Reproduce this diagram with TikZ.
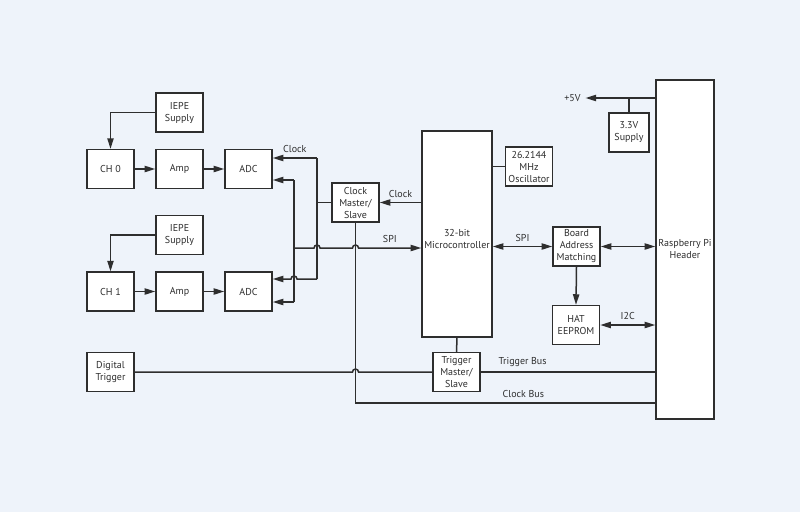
\documentclass[tikz,border=0pt]{standalone}
\usepackage{fontspec}
\setmainfont{PT Sans}
\usetikzlibrary{positioning, arrows.meta}
\definecolor{bgblue}{HTML}{EEF3FA}
\definecolor{inkgray}{HTML}{2E2E2E}

\begin{document}
\begin{tikzpicture}[x=0.8pt, y=-0.8pt, color=inkgray, line width=1.2pt,
    font=\fontsize{8}{9.6}\selectfont,
    >={Triangle[length=8.5pt, width=5pt]},
    box/.style={draw, fill=white, align=center, inner sep=1pt,
        minimum width=37.6pt, minimum height=31pt}]
    % Background
    \fill[bgblue] (0,0) rectangle (800,512);
    \useasboundingbox (0,0) rectangle (800,512);

    % Input channels
    \node[box] (iepeA) at (179.5,112.5) {IEPE\\Supply};
    \node[box] (chA) at (110.5,169) {CH 0};
    \node[box] (ampA) at (179.5,169) {Amp};
    \node[box] (adcA) at (248.5,169) {ADC};
    \node[box] (iepeB) at (179.5,235) {IEPE\\Supply};
    \node[box] (chB) at (110.5,291.5) {CH 1};
    \node[box] (ampB) at (179.5,291.5) {Amp};
    \node[box] (adcB) at (248.5,291.5) {ADC};
    \node[box] (dtrig) at (110.5,372) {Digital\\Trigger};

    % Controller side
    \node[box] (clkms) at (355.5,202.5) {Clock\\Master/\\Slave};
    \node[box, minimum width=56pt, minimum height=164.8pt,
        label={[align=center, yshift=-4pt]center:32-bit\\Microcontroller}] (mcu) at (457,234) {};
    \node[box] (osc) at (529,166.5) {26.2144\\MHz\\Oscillator};
    \node[box] (trigms) at (456.5,372) {Trigger\\Master/\\Slave};
    \node[box] (bam) at (576.5,246.5) {Board\\Address\\Matching};
    \node[box] (hat) at (576,325) {HAT\\EEPROM};
    \node[box, minimum width=32pt] (sup) at (629,132.5) {3.3V\\Supply};
    \node[box, minimum width=46.4pt, minimum height=271.2pt] (rpi) at (685,249.5) {Raspberry Pi\\Header};
    \node (vfive) at (572.5,98) {+5V};

    % Junctions
    \coordinate (ckA) at (317,158);
    \coordinate (ckB) at (317,279);
    \coordinate (spA) at (294,180);
    \coordinate (spB) at (294,302);
    \coordinate (spi0) at (294,248);
    \coordinate (cbus) at (355.5,403);

    % Signal chains
    \draw[->] (iepeA.west) -| (chA.north);
    \draw[->] (chA) -- (ampA);
    \draw[->] (ampA) -- (adcA);
    \draw[->] (iepeB.west) -| (chB.north);
    \draw[->] (chB) -- (ampB);
    \draw[->] (ampB) -- (adcB);

    % Clock and SPI to the ADCs
    \draw[->] (ckA) -- (ckA -| adcA.east) node[midway, above] {Clock};
    \draw (ckA) -- (ckB);
    \draw[->] (ckB) -- (297,279) arc (0:-180:3) -- (ckB -| adcB.east);
    \draw (clkms.west) -- (clkms.west -| ckA);
    \draw[->] (spA) -- (spA -| adcA.east);
    \draw (spA) -- (spB);
    \draw[->] (spB) -- (spB -| adcB.east);
    \draw[->] (spi0) -- (314,248) arc (180:360:3) -- (352.5,248) arc (180:360:3)
        -- (mcu.west |- spi0) node[midway, above] {SPI};
    \draw[->] (mcu.west |- clkms) -- (clkms.east) node[midway, above] {Clock};
    \draw (mcu.east |- osc) -- (osc.west);

    % Trigger and clock buses
    \draw (dtrig.east) -- (352.5,372) arc (180:360:3) -- (trigms.west);
    \draw (mcu.south) -- (trigms.north);
    \draw (trigms.east) -- (trigms.east -| rpi.west) node[pos=0.24, above] {Trigger Bus};
    \draw (clkms.south) -- (cbus) -- (cbus -| rpi.west) node[pos=0.56, above] {Clock Bus};

    % Host side
    \draw[<->] (mcu.east |- bam) -- (bam.west) node[midway, above] {SPI};
    \draw[<->] (bam.east) -- (bam.east -| rpi.west);
    \draw[->] (bam.south) -- (hat.north);
    \draw[<->] (hat.east) -- (hat.east -| rpi.west) node[midway, above] {I2C};
    \draw[->] (rpi.west |- vfive) -- (vfive.east);
    \draw (sup.north) -- (sup.north |- vfive);
\end{tikzpicture}
\end{document}
